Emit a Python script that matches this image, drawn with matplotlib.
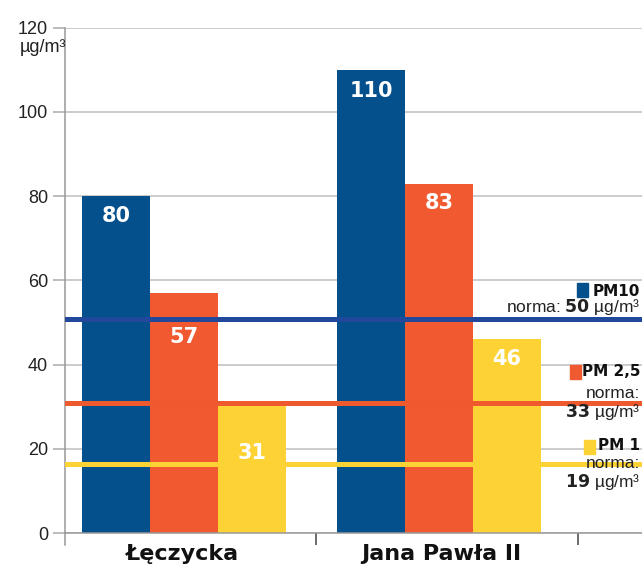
import numpy as np
import matplotlib
matplotlib.use("Agg")
import matplotlib.pyplot as plt
from matplotlib.patches import Rectangle

plt.rcParams['font.family'] = ['Liberation Sans', 'DejaVu Sans']
plt.rcParams['mathtext.fontset'] = 'custom'
plt.rcParams['mathtext.bf'] = 'DejaVu Sans:bold'
plt.rcParams['mathtext.rm'] = 'Liberation Sans'

# data
streets = ['Łęczycka', 'Jana Pawła II']
series = ['PM10', 'PM 2,5', 'PM 1']
pm_leczycka = [80, 57, 31]
pm_jana_pawla = [110, 83, 46]
norms = [50, 33, 19]
norm_levels = [50.8, 30.8, 16.4]   # where the norm lines are drawn in the picture
yticks = [0, 20, 40, 60, 80, 100, 120]

bar_colors = ['#03508c', '#f15a31', '#fdd235']
line_colors = ['#21489a', '#ee5a2e', '#fdd235']

W, H = 642, 567
fig = plt.figure(figsize=(W / 100, H / 100), dpi=100)
ax = fig.add_axes([65 / W, 34 / H, (W - 65) / W, 505.3 / H])

group_x = [0, 3.75]
values = [pm_leczycka, pm_jana_pawla]
# label drop below bar top (points), some pushed below the norm lines
drops = [[14.4, 31.7, 36.5], [15.0, 13.7, 14.0]]

for g, vals in enumerate(values):
    for i, v in enumerate(vals):
        x = group_x[g] + i
        ax.bar(x, v, width=1.0, color=bar_colors[i], zorder=2)
        ax.annotate(str(v), xy=(x, v), xytext=(0, -drops[g][i]),
                    textcoords='offset points', ha='center', va='center',
                    color='white', fontsize=15, fontweight='bold',
                    family='DejaVu Sans', zorder=5)

for lvl, c in zip(norm_levels, line_colors):
    ax.axhline(lvl, color=c, lw=3.6, zorder=3)

ax.set_xlim(-0.75, 7.735)
ax.set_ylim(0, 120)
ax.set_yticks(yticks)
ax.yaxis.grid(True, color='#cccccc', lw=1.4)
ax.set_axisbelow(True)
ax.tick_params(axis='y', length=8.6, width=1.1, color='#aaaaaa',
               labelsize=13, labelcolor='#222222', pad=3.6)

ax.set_xticks([0.97, 4.78])
ax.set_xticklabels(streets, fontsize=16, fontweight='bold',
                   family='DejaVu Sans', color='#111111')
ax.tick_params(axis='x', length=0, pad=8)
ax.set_xticks([2.94, 6.79], minor=True)
ax.tick_params(axis='x', which='minor', length=8.6, width=1.1, color='#444444')
ax.plot([-0.75, -0.75], [0, -2.9], color='#999999', lw=1.1, clip_on=False)

for s in ['top', 'right']:
    ax.spines[s].set_visible(False)
for s in ['left', 'bottom']:
    ax.spines[s].set_color('#999999')
    ax.spines[s].set_linewidth(1.1)

def fx(x):
    return x / W

def fy(y):
    return 1 - y / H

fig.text(fx(66), fy(52), 'µg/m³', ha='right', va='baseline',
         fontsize=13, color='#222222')

# norm legend on the right
squares = [(577, 283, 11, 14), (570, 365, 11, 14), (584, 440, 11, 14)]
for (sx, sy, sw, sh), c in zip(squares, bar_colors):
    fig.add_artist(Rectangle((fx(sx), fy(sy + sh)), sw / W, sh / H,
                             transform=fig.transFigure, color=c, zorder=6))

bold = dict(fontsize=11, fontweight='bold', family='DejaVu Sans', color='#111111')
reg = dict(fontsize=12.5, color='#222222')
right = 640
fig.text(fx(right), fy(291), series[0], ha='right', va='center', **bold)
fig.text(fx(right), fy(312), r'norma: $\mathbf{%d}$ µg/m³' % norms[0],
         ha='right', va='baseline', **reg)
fig.text(fx(right), fy(372), series[1], ha='right', va='center', **bold)
fig.text(fx(right), fy(398), 'norma:', ha='right', va='baseline', **reg)
fig.text(fx(right), fy(417), r'$\mathbf{%d}$ µg/m³' % norms[1],
         ha='right', va='baseline', **reg)
fig.text(fx(right), fy(446), series[2], ha='right', va='center', **bold)
fig.text(fx(right), fy(468), 'norma:', ha='right', va='baseline', **reg)
fig.text(fx(right), fy(487), r'$\mathbf{%d}$ µg/m³' % norms[2],
         ha='right', va='baseline', **reg)

fig.savefig('out.png', dpi=100)
